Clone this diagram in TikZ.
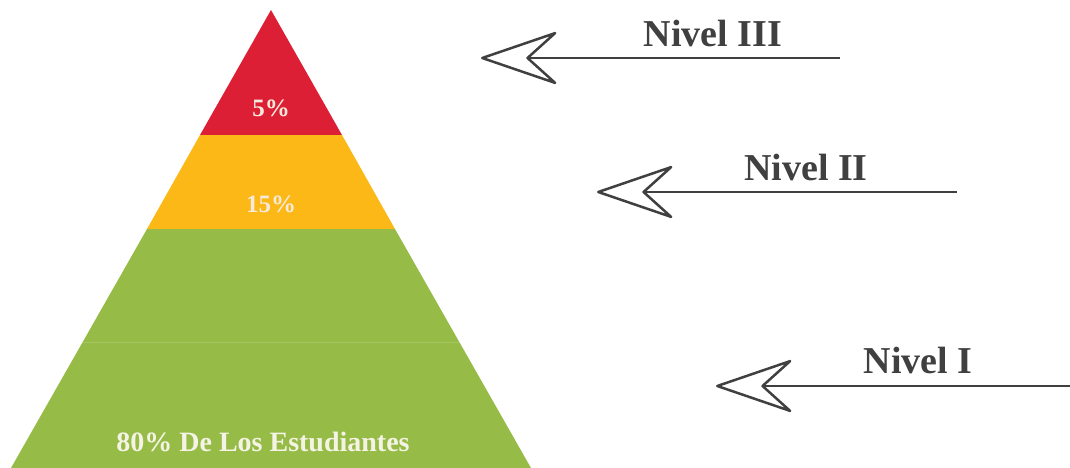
\documentclass[tikz,border=0pt]{standalone}
\usepackage{fontspec}
\setmainfont{Liberation Serif}
\usetikzlibrary{arrows.meta,positioning}

\definecolor{lvlred}{HTML}{DC1F35}
\definecolor{lvlyellow}{HTML}{FBB817}
\definecolor{lvlgreen}{HTML}{96BC47}
\definecolor{inkgray}{HTML}{404040}
\definecolor{pcttext}{HTML}{F7EADC}

\begin{document}
\begin{tikzpicture}[
    x = 1pt, y = -1pt, % one unit per pixel, y running down
    > = {Stealth[open, length=82pt, width=56pt, inset=31pt, round=false]}, % arrow head style
    line width = 2.5pt, % line style
    draw = inkgray
    ]

    \tikzset{
    pct/.style = {text = pcttext, font = \bfseries\fontsize{25}{25}\selectfont},
    lvl/.style = {text = inkgray, font = \bfseries\fontsize{38}{38}\selectfont},
    pointer/.style = {->, draw = inkgray}
    }
    \useasboundingbox (0,0) rectangle (1070,468);

    % pyramid bands
    \fill[lvlred] (271,10) -- (342,135) -- (200,135) -- cycle;
    \fill[lvlyellow] (200,135) -- (342,135) -- (395,229) -- (147,229) -- cycle;
    \fill[lvlgreen] (147,229) -- (395,229) -- (531,468) -- (11,468) -- cycle;
    \draw[line width = 0.6pt, draw = lvlgreen!85!white] (83,342) -- (459,342);

    \node[pct] (p5) at (271,108) {5\%};
    \node[pct] (p15) at (271,204) {15\%};
    \node[pct, font = \bfseries\fontsize{28}{28}\selectfont, text = pcttext!80!lvlgreen!40!white] (p80) at (263,442) {80\% De Los Estudiantes};

    % level pointers
    \coordinate (s3) at (840,58);
    \coordinate (e3) at (481,58);
    \coordinate (s2) at (957,192);
    \coordinate (e2) at (597,192);
    \coordinate (s1) at (1070,386);
    \coordinate (e1) at (716,386);

    \draw[pointer] (s3) -- (e3);
    \draw[pointer] (s2) -- (e2);
    \draw[pointer] (s1) -- (e1);

    \node[lvl] (n3) at (713,34) {Nivel III};
    \node[lvl] (n2) at (806,168) {Nivel II};
    \node[lvl] (n1) at (918,360) {Nivel I};
\end{tikzpicture}
\end{document}
